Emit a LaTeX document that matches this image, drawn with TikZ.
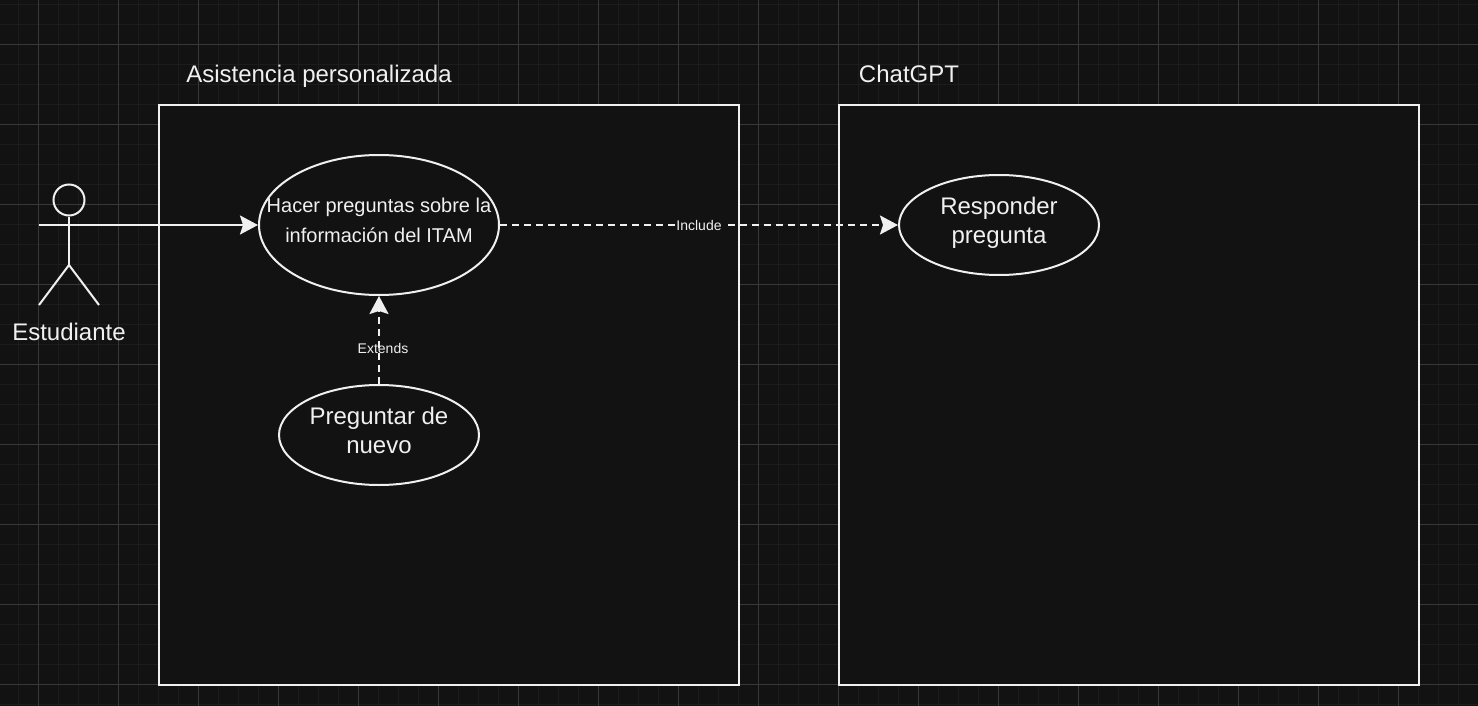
\documentclass[tikz,border=0pt]{standalone}
\usepackage{fontspec}
\setmainfont{Liberation Sans}
\usetikzlibrary{arrows.meta,shapes.geometric}
\definecolor{fondo}{HTML}{121212}
\definecolor{minorgrid}{HTML}{1C1C1C}
\definecolor{majorgrid}{HTML}{383838}
\definecolor{trazo}{HTML}{F0F0F0}
\tikzset{
  caja/.style={rectangle,draw=trazo,line width=2pt,fill=fondo,minimum width=580pt,minimum height=580pt},
  caso/.style={ellipse,draw=trazo,line width=2pt,fill=fondo,text=trazo,align=center,inner xsep=-50pt,inner ysep=-20pt},
  texto/.style={text=trazo,font=\fontsize{24}{29}\selectfont,align=center,inner sep=0pt},
  etiqueta/.style={text=trazo,font=\fontsize{14}{16}\selectfont,inner sep=1pt},
  linea/.style={draw=trazo,line width=2pt},
  flecha/.style={linea,-{Stealth[length=18pt,width=19pt,inset=3pt]}},
  punteada/.style={flecha,dash pattern=on 7pt off 5pt}
}
\begin{document}
\begin{tikzpicture}[x=1pt,y=-1pt]
\useasboundingbox[fill=fondo] (0,0) rectangle (1478,706);
\foreach \gx in {18.5,38.5,...,1478} \draw[minorgrid,line width=1.5pt] (\gx,0)--(\gx,706);
\foreach \gy in {4.5,24.5,...,706} \draw[minorgrid,line width=1.5pt] (0,\gy)--(1478,\gy);
\foreach \gx in {38.5,118.5,...,1478} \draw[majorgrid,line width=1pt] (\gx,0)--(\gx,706);
\foreach \gy in {44.5,124.5,...,706} \draw[majorgrid,line width=1pt] (0,\gy)--(1478,\gy);
\node[caja] (asistencia) at (449,395) {};
\node[caja] (chatgpt) at (1129,395) {};
\node[texto,anchor=base] (tituloA) at (319,83) {Asistencia personalizada};
\node[texto,anchor=base] (tituloB) at (909,83) {ChatGPT};
\node[caso,minimum width=240pt,minimum height=140pt,font=\fontsize{20}{30}\selectfont] (hacer) at (379,225) {Hacer preguntas sobre la\\información del ITAM\strut};
\node[caso,minimum width=200pt,minimum height=100pt,font=\fontsize{24}{29}\selectfont] (nuevo) at (379,435) {Preguntar de\\nuevo\strut};
\node[caso,minimum width=200pt,minimum height=100pt,font=\fontsize{24}{29}\selectfont] (responder) at (999,225) {Responder\\pregunta\strut};
% actor
\node[circle,draw=trazo,line width=2pt,minimum size=31pt,inner sep=0pt] (cabeza) at (69,200) {};
\coordinate (cadera) at (69,265);
\coordinate (manoI) at (39,225);
\coordinate (pieI) at (39,305);
\coordinate (pieD) at (99,305);
\draw[linea] (cabeza.south)--(cadera);
\draw[linea] (pieI)--(cadera)--(pieD);
\node[texto,anchor=base] (estudiante) at (69,340) {Estudiante};
\draw[flecha] (manoI)--(hacer.west);
\draw[punteada] (nuevo.north)--(hacer.south) node[etiqueta,pos=0.4,xshift=4pt] (extends) {Extends};
\draw[punteada] (hacer.east)--(responder.west) node[etiqueta,fill=fondo,pos=0.5] (include) {Include};
\end{tikzpicture}
\end{document}
